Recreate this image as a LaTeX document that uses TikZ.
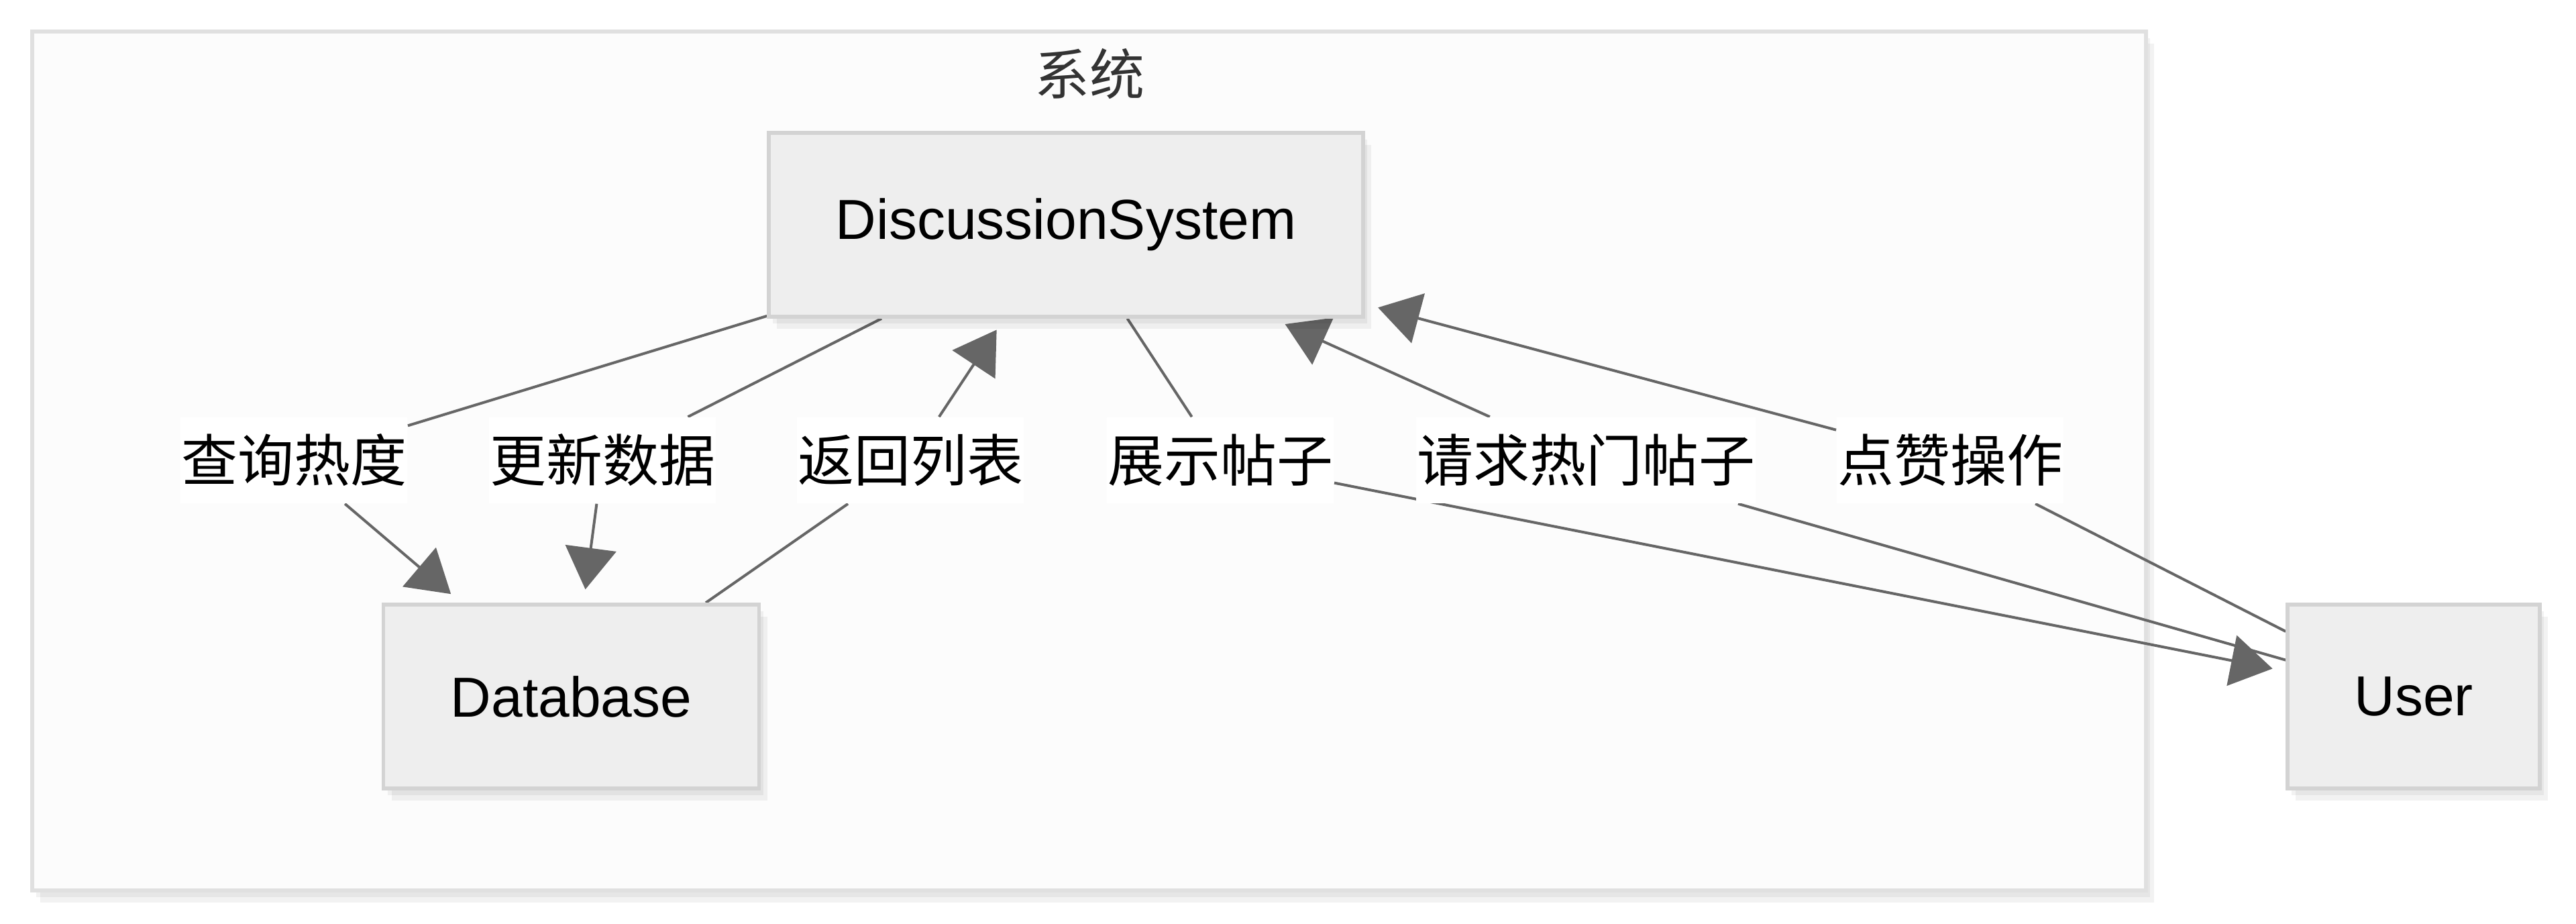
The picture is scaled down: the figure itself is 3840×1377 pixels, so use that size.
\documentclass[tikz,border=0pt]{standalone}
\usepackage{fontspec}
\setmainfont{Liberation Sans}
\newfontfamily\cjk{Noto Sans CJK SC}
\usepackage{tikz}
\usetikzlibrary{arrows.meta,shadows}
\definecolor{boxfill}{HTML}{EEEEEE}
\definecolor{boxline}{HTML}{D3D3D3}
\definecolor{clusterfill}{HTML}{FCFCFC}
\definecolor{clusterline}{HTML}{E0E0E0}
\definecolor{edgeline}{HTML}{666666}
\definecolor{titletext}{HTML}{333333}
\pgfdeclarelayer{back}
\pgfdeclarelayer{edges}
\pgfsetlayers{back,edges,main}

\begin{document}
\begin{tikzpicture}[x=0.25pt,y=-0.25pt,
    softshadow/.style={general shadow={fill=black,opacity=0.05,shadow xshift=1.5pt,shadow yshift=-2.5pt},
        general shadow={fill=black,opacity=0.05,shadow xshift=3pt,shadow yshift=-4.5pt}},
    entity/.style={draw=boxline,line width=1.4pt,fill=boxfill,minimum height=68.5pt,inner sep=0pt,
        font=\fontsize{21}{25}\selectfont,softshadow},
    tag/.style={fill=white,minimum height=32pt,inner xsep=0.3pt,inner ysep=0pt,font=\cjk\fontsize{21}{25}\selectfont},
    flow/.style={draw=edgeline,line width=1pt},
    flowarrow/.style={flow,-{Triangle[length=15.5pt,width=19pt]},shorten >=5pt}]
    \useasboundingbox (0,0) rectangle (3840,1377);
    \begin{pgfonlayer}{back}
        \path[draw=clusterline,line width=1.3pt,fill=clusterfill,softshadow] (48,47) rectangle (3199,1327);
    \end{pgfonlayer}
    \node[font=\cjk\fontsize{20.5}{24}\selectfont,text=titletext] (title) at (1624,110) {系统};

    \node[entity,minimum width=221.5pt] (ds) at (1589,335) {DiscussionSystem};
    \node[entity,minimum width=140pt] (db) at (851.5,1038) {Database};
    \node[entity,minimum width=94pt] (user) at (3598,1038) {User};

    \node[tag] (lquery) at (438,686) {查询热度};
    \node[tag] (lupdate) at (898,686) {更新数据};
    \node[tag] (lreturn) at (1357,686) {返回列表};
    \node[tag] (lshow) at (1819,686) {展示帖子};
    \node[tag] (lrequest) at (2364,686) {请求热门帖子};
    \node[tag] (llike) at (2907,686) {点赞操作};

    \begin{pgfonlayer}{edges}
        \draw[flow] (ds) -- (lquery);
        \draw[flowarrow] (lquery) -- (db);
        \draw[flow] (ds) -- (lupdate);
        \draw[flowarrow] (lupdate) -- (db);
        \draw[flow] (db) -- (lreturn);
        \draw[flowarrow] (lreturn) -- (ds);
        \draw[flow] (ds) -- (lshow);
        \draw[flowarrow] (lshow) -- (user);
        \draw[flow] (user) -- (lrequest);
        \draw[flowarrow] (lrequest) -- (ds);
        \draw[flow] (user) -- (llike);
        \draw[flowarrow] (llike) -- (ds);
    \end{pgfonlayer}
\end{tikzpicture}
\end{document}
